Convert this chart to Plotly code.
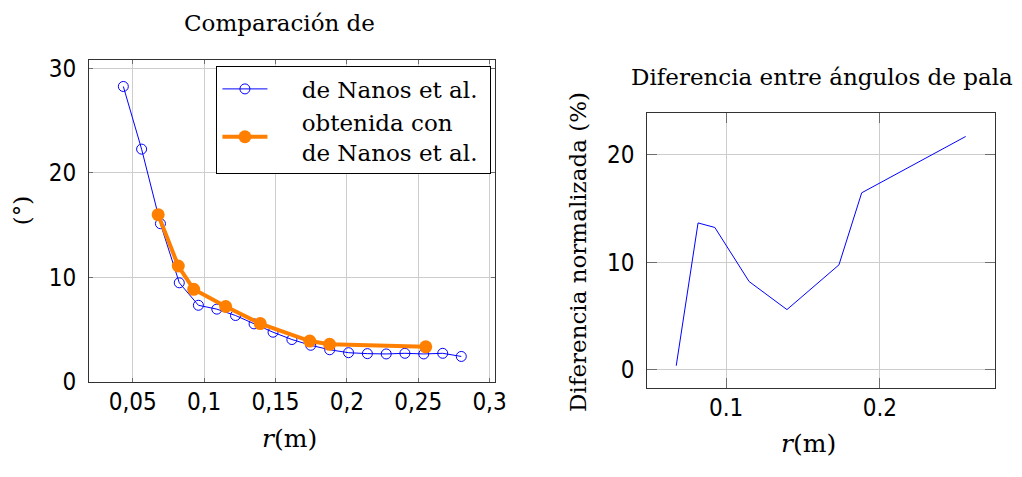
import plotly.graph_objects as go

# Left panel data
r_nanos = [0.0434, 0.0562, 0.0694, 0.0826, 0.0960, 0.1089, 0.1220, 0.1350, 0.1483, 0.1615,
           0.1747, 0.1880, 0.2012, 0.2144, 0.2276, 0.2407, 0.2539, 0.2672, 0.2802]
ang_nanos = [28.27, 22.27, 15.13, 9.47, 7.32, 6.95, 6.34, 5.54, 4.74, 4.04,
             3.49, 3.06, 2.78, 2.69, 2.66, 2.72, 2.66, 2.72, 2.42]
r_calc = [0.0678, 0.0819, 0.0927, 0.1151, 0.1393, 0.1740, 0.1879, 0.2553]
ang_calc = [15.99, 11.08, 8.85, 7.20, 5.57, 3.89, 3.58, 3.34]

# Right panel data
r_diff = [0.0676, 0.0818, 0.0927, 0.1150, 0.1396, 0.1734, 0.1882, 0.2558]
diff_pct = [0.38, 13.66, 13.24, 8.21, 5.60, 9.76, 16.46, 21.70]

left_xticks = [0.05, 0.1, 0.15, 0.2, 0.25, 0.3]
left_xticklabels = ["0,05", "0,1", "0,15", "0,2", "0,25", "0,3"]
left_yticks = [0, 10, 20, 30]
right_xticks = [0.1, 0.2]
right_xticklabels = ["0.1", "0.2"]
right_yticks = [0, 10, 20]

W, H = 1022, 477
SERIF = "DejaVu Serif"
TICKFONT = "Liberation Sans Narrow, DejaVu Sans Condensed, Liberation Sans"
BLUE = "rgb(0,0,255)"
ORANGE = "rgb(255,128,0)"
GRID = "rgb(205,205,205)"
FRAME = "rgb(50,50,50)"
TICKC = "rgb(110,110,110)"
PAD = "\u00a0" * 4

fig = go.Figure()
fig.add_trace(go.Scatter(x=r_nanos, y=ang_nanos, mode="lines+markers",
                         name=PAD + "de Nanos et al.\u00a0",
                         line=dict(color=BLUE, width=1),
                         marker=dict(symbol="circle-open", size=10, color=BLUE,
                                     line=dict(width=1, color=BLUE)),
                         xaxis="x", yaxis="y"))
fig.add_trace(go.Scatter(x=r_calc, y=ang_calc, mode="lines+markers",
                         name=PAD + "obtenida con<br>" + PAD + "de Nanos et al.\u00a0",
                         line=dict(color=ORANGE, width=4),
                         marker=dict(symbol="circle", size=13, color=ORANGE),
                         xaxis="x", yaxis="y"))
fig.add_trace(go.Scatter(x=r_diff, y=diff_pct, mode="lines",
                         line=dict(color=BLUE, width=1), showlegend=False,
                         xaxis="x2", yaxis="y2"))


def px_x(p):
    return p / W


def px_y(p):
    return 1 - p / H


def axis_style(ticklen, standoff):
    return dict(showgrid=True, gridcolor=GRID, gridwidth=1, showline=True,
                linecolor=FRAME, linewidth=1, mirror="ticks", ticks="inside",
                ticklen=ticklen, tickcolor=TICKC, zeroline=False,
                ticklabelstandoff=standoff,
                tickfont=dict(family=TICKFONT, size=24, color="black"))


fig.update_layout(
    width=W, height=H, autosize=False,
    margin=dict(l=0, r=0, t=0, b=0),
    paper_bgcolor="white", plot_bgcolor="white",
    xaxis=dict(domain=[px_x(90), px_x(500.7)], range=[0.0193, 0.3037],
               tickvals=left_xticks, ticktext=left_xticklabels,
               anchor="y", **axis_style(4, -2)),
    yaxis=dict(domain=[px_y(393), px_y(57)], range=[-0.06, 30.83],
               tickvals=left_yticks, anchor="x", **axis_style(4, 7)),
    xaxis2=dict(domain=[px_x(655), px_x(1006.7)], range=[0.0488, 0.2748],
                tickvals=right_xticks, ticktext=right_xticklabels,
                anchor="y2", **axis_style(10, -2)),
    yaxis2=dict(domain=[px_y(399), px_y(112.3)], range=[-1.7, 23.9],
                tickvals=right_yticks, anchor="x2", **axis_style(10, 7)),
    legend=dict(x=px_x(219), y=px_y(64), xanchor="left", yanchor="top",
                bgcolor="white", bordercolor="black", borderwidth=1,
                font=dict(family=SERIF, size=23, color="black"),
                itemwidth=45, tracegroupgap=0),
    showlegend=True,
)

annots = [
    dict(text="Comparación de", x=px_x(282.5), y=px_y(19), size=23),
    dict(text="Diferencia entre ángulos de pala", x=px_x(831.5), y=px_y(75), size=23),
    dict(text="<i>r</i>(m)", x=px_x(293), y=px_y(452), size=25),
    dict(text="<i>r</i>(m)", x=px_x(818), y=px_y(457), size=25),
    dict(text="(°)", x=px_x(22.5), y=px_y(214.5), textangle=-90, size=23),
    dict(text="Diferencia normalizada (%)", x=px_x(585), y=px_y(257), textangle=-90, size=23),
]
for a in annots:
    size = a.pop("size")
    fig.add_annotation(xref="paper", yref="paper", showarrow=False,
                       xanchor="center", yanchor="middle",
                       font=dict(family=SERIF, size=size, color="black"), **a)

fig.write_html("out.html")
